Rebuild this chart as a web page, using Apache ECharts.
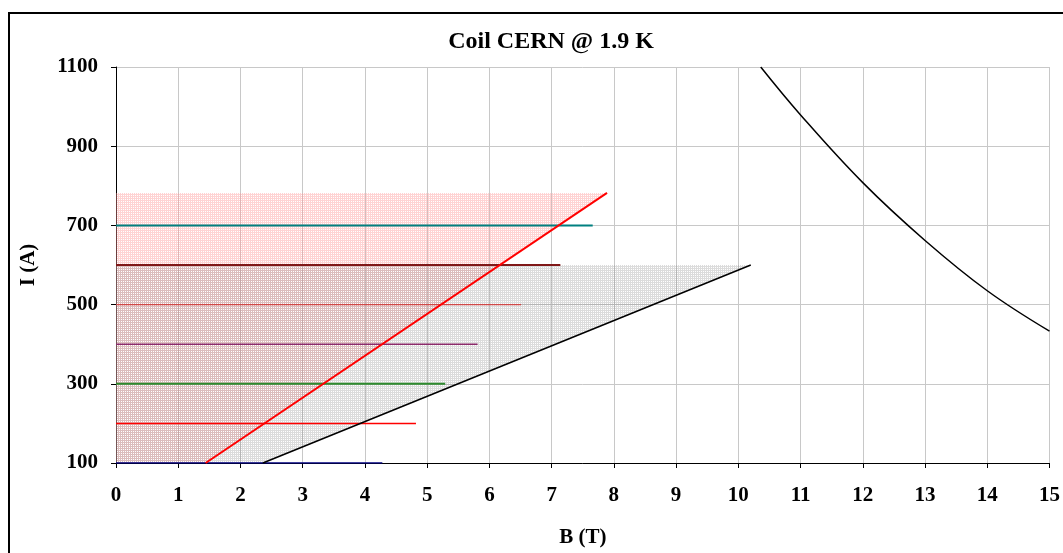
<!DOCTYPE html>
<html>
<head>
<meta charset="utf-8">
<script src="https://cdn.jsdelivr.net/npm/echarts@6/dist/echarts.min.js"></script>
<style>
  html, body { margin: 0; padding: 0; background: #fff; }
  #chart { width: 1063px; height: 553px; }
</style>
</head>
<body>
<div id="chart"></div>
<script>
// Critical current of the coil: load lines, operating levels and the short-sample curve
const xTicks = [0, 1, 2, 3, 4, 5, 6, 7, 8, 9, 10, 11, 12, 13, 14, 15];
const yTicks = [100, 300, 500, 700, 900, 1100];

// Horizontal current levels (A) and the field (T) where each one stops
const levelI = [100, 200, 300, 400, 500, 600, 700];
const levelEndB = [4.28, 4.82, 5.29, 5.81, 6.51, 7.14, 7.66];

// Red load line
const redB = [1.44, 7.89];
const redI = [100, 782];

// Black load line
const blackB = [2.36, 10.2];
const blackI = [100, 600];

// Critical curve at 1.9 K
const critB = [10.36, 11, 12, 13, 14, 15];
const critI = [1100, 979, 808, 662, 535, 433];

// Shaded regions (polygon corners)
const pinkB = [0, 0, 7.89, 1.44];
const pinkI = [100, 782, 782, 100];
const grayB = [0, 0, 10.2, 2.36];
const grayI = [100, 600, 600, 100];

const levelColors = ['#000080', '#ff0000', '#2e8b2e', '#8b2a6b', '#d04848', '#801818', '#008080'];
const levelWidths = [1.5, 1.5, 2, 1.5, 1.2, 2, 2];

function pairs(xs, ys) { return xs.map((x, i) => [x, ys[i]]); }

// Small repeating grid tile used as a hatch fill
function makePattern(r, g, b, a) {
  const c = document.createElement('canvas');
  c.width = 2; c.height = 2;
  const ctx = c.getContext('2d');
  ctx.fillStyle = `rgba(${r},${g},${b},${a})`;
  ctx.fillRect(0, 0, 2, 1);
  ctx.fillRect(0, 1, 1, 1);
  return { image: c, repeat: 'repeat' };
}

function polygonSeries(xs, ys, fill, z) {
  const pts = pairs(xs, ys);
  return {
    type: 'custom',
    z: z,
    silent: true,
    data: [pts[0]],
    renderItem: function (params, api) {
      const coords = pts.map(p => api.coord(p));
      return {
        type: 'polygon',
        shape: { points: coords },
        style: { fill: fill, stroke: null }
      };
    }
  };
}

const font = 'Liberation Serif';
const chart = echarts.init(document.getElementById('chart'), null, { renderer: 'canvas' });

const series = [
  polygonSeries(pinkB, pinkI, makePattern(255, 150, 150, 0.42), 1),
  polygonSeries(grayB, grayI, makePattern(140, 140, 140, 0.3), 2)
];

levelI.forEach((lv, i) => {
  series.push({
    type: 'line', z: 3, symbol: 'none', silent: true,
    data: [[0, lv], [levelEndB[i], lv]],
    lineStyle: { color: levelColors[i], width: levelWidths[i] }
  });
});

series.push({
  type: 'line', z: 5, symbol: 'none', silent: true,
  data: pairs(blackB, blackI),
  lineStyle: { color: '#000', width: 1.5 }
});
series.push({
  type: 'line', z: 6, symbol: 'none', silent: true,
  data: pairs(redB, redI),
  lineStyle: { color: '#ff0000', width: 2 }
});
series.push({
  type: 'line', z: 5, symbol: 'none', silent: true, smooth: 0.4,
  data: pairs(critB, critI),
  lineStyle: { color: '#000', width: 1.5 }
});

chart.setOption({
  animation: false,
  backgroundColor: '#fff',
  title: {
    text: 'Coil CERN @ 1.9 K',
    left: 546, top: 25, textAlign: 'center',
    textStyle: { fontFamily: font, fontWeight: 'bold', fontSize: 24, color: '#000' }
  },
  graphic: [{
    type: 'rect', z: 100, silent: true,
    shape: { x: 9, y: 13, width: 1070, height: 560 },
    style: { fill: null, stroke: '#000', lineWidth: 2 }
  }],
  grid: { left: 116, right: 12, top: 67, bottom: 90, containLabel: false },
  xAxis: {
    type: 'value', min: xTicks[0], max: xTicks[xTicks.length - 1], interval: 1,
    name: 'B (T)', nameLocation: 'middle', nameGap: 64,
    nameTextStyle: { fontFamily: font, fontWeight: 'bold', fontSize: 21, color: '#000' },
    axisLine: { show: true, onZero: false, lineStyle: { color: '#000', width: 1 } },
    axisTick: { show: true, length: 5, lineStyle: { color: '#000' } },
    axisLabel: {
      margin: 22, fontFamily: font, fontWeight: 'bold', fontSize: 21, color: '#000',
      formatter: v => xTicks.includes(v) ? String(v) : ''
    },
    splitLine: { show: true, lineStyle: { color: '#c8c8c8', width: 1 } }
  },
  yAxis: {
    type: 'value', min: yTicks[0], max: yTicks[yTicks.length - 1], interval: 200,
    name: 'I (A)', nameLocation: 'middle', nameGap: 77, nameRotate: 90,
    nameTextStyle: { fontFamily: font, fontWeight: 'bold', fontSize: 21, color: '#000' },
    axisLine: { show: true, onZero: false, lineStyle: { color: '#000', width: 1 } },
    axisTick: { show: true, length: 5, lineStyle: { color: '#000' } },
    axisLabel: {
      margin: 18, fontFamily: font, fontWeight: 'bold', fontSize: 21, color: '#000',
      formatter: v => yTicks.includes(v) ? String(v) : ''
    },
    splitLine: { show: true, lineStyle: { color: '#c8c8c8', width: 1 } }
  },
  series: series
});
</script>
</body>
</html>
